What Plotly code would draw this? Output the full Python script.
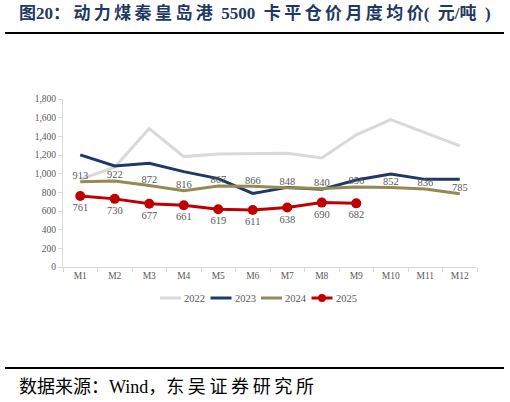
import plotly.graph_objects as go

months = ["M1", "M2", "M3", "M4", "M5", "M6", "M7", "M8", "M9", "M10", "M11", "M12"]
y2022 = [939, 1070, 1484, 1183, 1212, 1219, 1219, 1169, 1416, 1578, 1434, 1298]
y2023 = [1201, 1083, 1112, 1022, 947, 789, 853, 832, 932, 997, 939, 939]
y2024 = [913, 922, 872, 816, 867, 866, 848, 840, 856, 852, 836, 785]
y2025 = [761, 730, 677, 661, 619, 611, 638, 690, 682]
series_names = ["2022", "2023", "2024", "2025"]
colors = ["#D9D9D9", "#1F3864", "#948A54", "#C00000"]

serif = "Liberation Serif, Times New Roman, Noto Sans CJK SC, serif"
gray = "#595959"

PL, PR, PT, PB = 63, 477, 99, 267  # target plot box in page pixels
W, H = 510, 402
pw, ph = PR - PL, PB - PT


def px(xs):
    return (xs - PL) / pw


def py(ys):
    return (PB - ys) / ph


fig = go.Figure()
fig.add_trace(go.Scatter(x=months, y=y2022, name="2022", mode="lines",
                         line=dict(color=colors[0], width=3)))
fig.add_trace(go.Scatter(x=months, y=y2023, name="2023", mode="lines",
                         line=dict(color=colors[1], width=3)))
fig.add_trace(go.Scatter(x=months, y=y2024, name="2024", mode="lines+text",
                         line=dict(color=colors[2], width=3),
                         text=[str(v) for v in y2024], textposition="top center",
                         textfont=dict(family=serif, size=10.5, color=gray)))
fig.add_trace(go.Scatter(x=months[:len(y2025)], y=y2025, name="2025", mode="lines+markers+text",
                         line=dict(color=colors[3], width=3),
                         marker=dict(color=colors[3], size=10),
                         text=[str(v) for v in y2025], textposition="bottom center",
                         textfont=dict(family=serif, size=10.5, color=gray)))

fig.update_layout(
    width=W, height=H,
    margin=dict(l=PL, r=W - PR, t=PT, b=H - PB),
    paper_bgcolor="white", plot_bgcolor="white",
    font=dict(family=serif, color=gray, size=10),
    showlegend=False,
    xaxis=dict(type="category", range=[-0.5, 11.5], showgrid=False,
               showline=True, linecolor="#D9D9D9", linewidth=1,
               ticks="outside", tickcolor="#D9D9D9", ticklen=4,
               tickson="boundaries",
               tickfont=dict(family=serif, size=9.5, color=gray)),
    yaxis=dict(range=[0, 1800], dtick=200, tickformat=",", showgrid=False,
               showline=True, linecolor="#D9D9D9", linewidth=1,
               ticks="outside", tickcolor="#D9D9D9", ticklen=4,
               tickfont=dict(family=serif, size=9.5, color=gray)),
)

# compact legend drawn in paper coordinates
leg_y = 298
for i, (nm, c) in enumerate(zip(series_names, colors)):
    x0 = 160 + i * 50.5
    fig.add_shape(type="line", xref="paper", yref="paper",
                  x0=px(x0), x1=px(x0 + 21), y0=py(leg_y), y1=py(leg_y),
                  line=dict(color=c, width=3))
    if nm == "2025":
        fig.add_shape(type="circle", xref="paper", yref="paper",
                      x0=px(x0 + 10.5 - 4), x1=px(x0 + 10.5 + 4),
                      y0=py(leg_y + 4), y1=py(leg_y - 4),
                      fillcolor=c, line=dict(color=c, width=0))
    fig.add_annotation(text=nm, xref="paper", yref="paper",
                       x=px(x0 + 22), xanchor="left", y=py(leg_y), yanchor="middle",
                       showarrow=False,
                       font=dict(family=serif, size=10.5, color=gray))

ts = "\u2009"
es = "\u2002"
title = ("图" + "20：" + ts + ts.join("动力煤秦皇岛港") + es + "5500" + es + ts.join("卡平仓价月度均价")
         + "(" + es + "元/吨" + es + ")")
fig.add_annotation(text="<b>" + title + "</b>",
                   xref="paper", yref="paper", x=px(17), xanchor="left",
                   y=py(13), yanchor="middle", showarrow=False,
                   font=dict(family=serif, size=17, color="#1F3864"))
footer = "数据来源：Wind，" + ts.join("东吴证券研究所")
fig.add_annotation(text=footer,
                   xref="paper", yref="paper", x=px(17), xanchor="left",
                   y=py(387), yanchor="middle", showarrow=False,
                   font=dict(family=serif, size=18, color="#000000"))
for ry in (33, 368):
    fig.add_shape(type="line", xref="paper", yref="paper",
                  x0=px(5), x1=px(504), y0=py(ry), y1=py(ry),
                  line=dict(color="#000000", width=2))

fig.write_html("out.html", config={"displayModeBar": False},
               post_script="document.body.style.margin='0';document.body.style.overflow='hidden';")
